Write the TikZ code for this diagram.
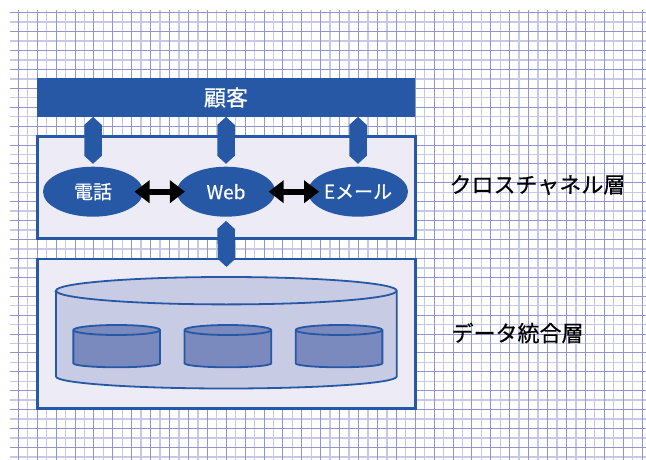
\documentclass[tikz,border=0pt]{standalone}
\usepackage{fontspec}
\setmainfont[FakeBold=0.5]{Noto Sans CJK JP}
\usetikzlibrary{shapes.geometric,arrows.meta,calc}
\pgfdeclarelayer{bg}
\pgfsetlayers{bg,main}
\definecolor{cblue}{RGB}{38,88,165}
\definecolor{boxfill}{RGB}{237,236,246}
\definecolor{cylfill}{RGB}{200,203,228}
\definecolor{dbfill}{RGB}{122,137,190}
\definecolor{griddark}{RGB}{145,150,206}
\definecolor{gridlight}{RGB}{198,200,230}
\tikzset{
  layerbox/.style={draw=cblue, line width=2.2pt, fill=boxfill, inner sep=0pt},
  channel/.style={ellipse, fill=cblue, text=white, inner sep=0pt, minimum height=50pt,
    font=\fontsize{19pt}{19pt}\selectfont},
  layerlabel/.style={anchor=west, font=\fontsize{22pt}{22pt}\selectfont},
  swap/.style={line width=6pt, {Triangle[length=15pt,width=22pt]}-{Triangle[length=15pt,width=22pt]}},
  cyl/.style={draw=cblue, line width=1.8pt},
}
\newcommand\blockarrow[2]{%
  \fill[cblue] let \p1=#1, \p2=#2 in (\x1,\y1) -- (\x1+8.75pt,\y1-8pt) -- (\x2+8.75pt,\y2+8pt)
    -- (\x2,\y2) -- (\x2-8.75pt,\y2+8pt) -- (\x1-8.75pt,\y1-8pt) -- cycle;}

\begin{document}
\begin{tikzpicture}[x=1pt,y=1pt]
        \useasboundingbox (0,0) rectangle (646,-460);
        \begin{pgfonlayer}{bg}
                \fill[white] (0,0) rectangle (646,-460);
                \foreach \i in {1,3,...,65}
                        \draw[gridlight, line width=1.4pt] (18.3+9.45*\i,-10) -- (18.3+9.45*\i,-460);
                \foreach \j in {1,3,...,47}
                        \draw[gridlight, line width=1.4pt] (10,-12.7-9.45*\j) -- (646,-12.7-9.45*\j);
                \foreach \i in {0,2,...,66}
                        \draw[griddark, line width=0.9pt] (18.3+9.45*\i,-10) -- (18.3+9.45*\i,-460);
                \foreach \j in {0,2,...,46}
                        \draw[griddark, line width=0.9pt] (10,-12.7-9.45*\j) -- (646,-12.7-9.45*\j);
        \end{pgfonlayer}

        \node (cust) [fill=cblue, text=white, inner sep=0pt, minimum width=378pt, minimum height=38.4pt,
                font=\fontsize{22pt}{22pt}\selectfont] at (226,-97.5) {顧客};
        \node (cross) [layerbox, minimum width=378pt, minimum height=102pt] at (226.5,-187.5) {};
        \node (data) [layerbox, minimum width=378pt, minimum height=149.5pt] at (226.5,-333.75) {};

        % data store
        \draw[cyl, fill=cylfill] (56,-290.7) -- (56,-376.5)
                arc[start angle=180, end angle=360, x radius=170.35pt, y radius=12pt] -- (396.7,-290.7)
                arc[start angle=0, end angle=180, x radius=170.35pt, y radius=13.7pt] -- cycle;
        \draw[cyl] (56,-290.7) arc[start angle=180, end angle=360, x radius=170.35pt, y radius=13.7pt];
        \foreach \cx in {116.7,227.9,339} {
                \draw[cyl, fill=dbfill] (\cx-43.35,-330) -- (\cx-43.35,-363.3)
                        arc[start angle=180, end angle=360, x radius=43.35pt, y radius=4pt] -- (\cx+43.35,-330)
                        arc[start angle=0, end angle=180, x radius=43.35pt, y radius=5pt] -- cycle;
                \draw[cyl] (\cx-43.35,-330) arc[start angle=180, end angle=360, x radius=43.35pt, y radius=5pt];
        }

        \node (tel) [channel, minimum width=100pt] at (93,-191.7) {電話};
        \node (web) [channel, minimum width=98.3pt] at (226,-191.7) {Web};
        \node (mail) [channel, minimum width=100pt] at (358,-191.7) {Eメール};

        \node (crosslbl) [layerlabel] at (446,-185) {クロスチャネル層};
        \node (datalbl) [layerlabel] at (448,-333) {データ統合層};

        \blockarrow{(cust.south -| tel.north)}{([yshift=2.7pt]tel.north)}
        \blockarrow{(cust.south -| web.north)}{([yshift=2.7pt]web.north)}
        \blockarrow{(cust.south -| mail.north)}{([yshift=2.7pt]mail.north)}
        \blockarrow{([yshift=-4pt]web.south)}{([yshift=-9pt]data.north)}

        \draw[swap] ([xshift=-8.7pt]tel.east) -- ([xshift=8.3pt]web.west);
        \draw[swap] ([xshift=-6.7pt]web.east) -- ([xshift=11.3pt]mail.west);
\end{tikzpicture}
\end{document}
